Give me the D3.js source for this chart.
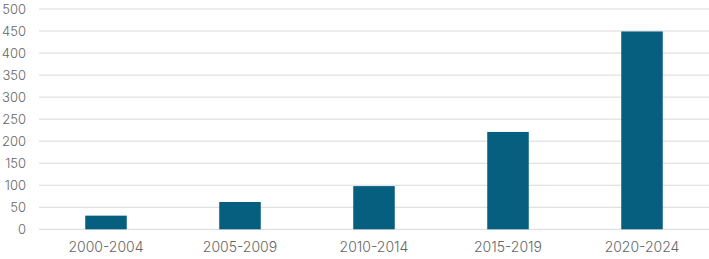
<!DOCTYPE html>
<html lang="en">
<head>
    <meta charset="UTF-8">
    <title>Bar chart</title>
    <script type="text/javascript" src="https://cdn.jsdelivr.net/npm/d3@7"></script>
    <style>
        body { margin: 0; background: #fff; }
    </style>
</head>
<body>
<script type="text/javascript">
    var w = 709;
    var h = 259;

    var categories = ["2000-2004", "2005-2009", "2010-2014", "2015-2019", "2020-2024"];
    var values = [31, 62, 98, 221, 449];
    var yTicks = [0, 50, 100, 150, 200, 250, 300, 350, 400, 450, 500];

    var margin = {top: 9, right: 0, bottom: 30, left: 39};

    var svg = d3.select("body")
        .append("svg")
        .attr("width", w)
        .attr("height", h)
        .style("font-family", "Inter, 'Open Sans', sans-serif");

    var xScale = d3.scaleBand()
        .domain(categories)
        .range([margin.left, w - margin.right])
        .paddingInner(0.69)
        .paddingOuter(0.345);

    var yScale = d3.scaleLinear()
        .domain([0, 500])
        .range([229.3, margin.top]);

    // gridlines
    svg.selectAll("line.grid")
        .data(yTicks).enter()
        .append("line")
        .attr("class", "grid")
        .attr("x1", margin.left)
        .attr("x2", w - margin.right)
        .attr("y1", function (d) { return yScale(d); })
        .attr("y2", function (d) { return yScale(d); })
        .attr("stroke", "#d9d9d9")
        .attr("stroke-width", 1);

    svg.selectAll("rect")
        .data(values).enter()
        .append("rect")
        .attr("x", function (d, i) { return xScale(categories[i]); })
        .attr("width", xScale.bandwidth())
        .attr("y", function (d) { return yScale(d); })
        .attr("height", function (d) { return yScale(0) - yScale(d); })
        .attr("fill", "#075f80");

    var yAxis = d3.axisLeft(yScale).tickValues(yTicks).tickSize(0).tickPadding(13);
    svg.append("g")
        .attr("transform", "translate(" + margin.left + ",0)")
        .call(yAxis)
        .call(function (g) { g.select(".domain").remove(); })
        .selectAll("text")
        .attr("font-size", "13px")
        .attr("fill", "#666666");

    var xAxis = d3.axisBottom(xScale).tickSize(0).tickPadding(13);
    svg.append("g")
        .attr("transform", "translate(0," + yScale(0) + ")")
        .call(xAxis)
        .call(function (g) { g.select(".domain").remove(); })
        .selectAll("text")
        .attr("font-size", "14px")
        .attr("fill", "#666666");

    svg.selectAll(".tick text")
        .attr("font-family", "Inter, 'Open Sans', sans-serif")
        .attr("font-weight", 300);
</script>
</body>
</html>
